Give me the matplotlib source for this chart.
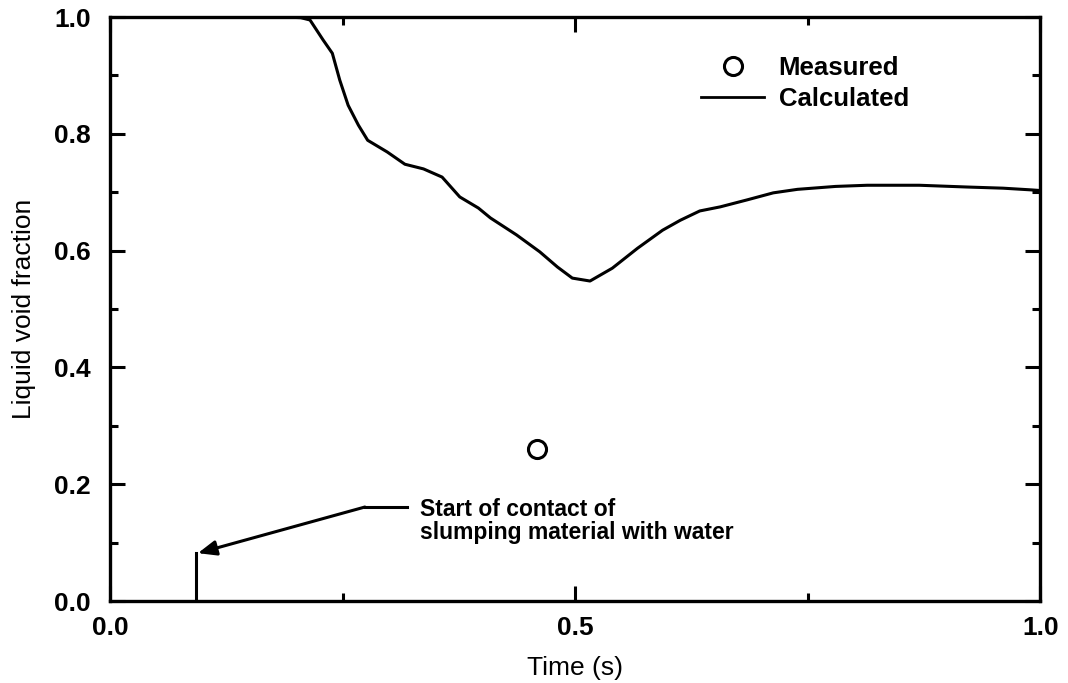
import numpy as np
import matplotlib.pyplot as plt
from matplotlib.lines import Line2D

plt.rcParams['font.family'] = ['Liberation Sans', 'DejaVu Sans']

# Calculated liquid void fraction
time_calc = [0.0, 0.10, 0.19, 0.205, 0.215, 0.229, 0.239, 0.247, 0.256, 0.267,
             0.277, 0.298, 0.317, 0.337, 0.357, 0.376, 0.396, 0.409, 0.437,
             0.462, 0.481, 0.497, 0.516, 0.540, 0.567, 0.594, 0.613, 0.634,
             0.656, 0.685, 0.713, 0.739, 0.78, 0.814, 0.87, 0.921, 0.96,
             0.991, 1.0]
void_calc = [1.0, 1.0, 1.0, 0.999, 0.995, 0.961, 0.938, 0.892, 0.849, 0.815,
             0.789, 0.769, 0.748, 0.740, 0.726, 0.692, 0.673, 0.656, 0.627,
             0.598, 0.572, 0.553, 0.548, 0.570, 0.604, 0.635, 0.652, 0.668,
             0.675, 0.687, 0.699, 0.705, 0.710, 0.712, 0.712, 0.709, 0.707,
             0.704, 0.703]

# Measured point
time_meas = [0.459]
void_meas = [0.260]

# Start of contact
t_contact = 0.0925
contact_text = "Start of contact of\nslumping material with water"

fig = plt.figure(figsize=(10.68, 6.83), dpi=100)
ax = fig.add_axes([0.103, 0.12, 0.871, 0.855])

ax.plot(time_calc, void_calc, color='black', lw=2.2)
ax.plot(time_meas, void_meas, 'o', ms=13, mfc='none', mec='black', mew=2.2)

# arrow marking start of contact
ax.plot([t_contact, t_contact], [0.0, 0.082], color='black', lw=2.2)
ax.annotate('', xy=(t_contact + 0.002, 0.082), xytext=(0.274, 0.161),
            arrowprops=dict(arrowstyle='-|>,head_length=1.1,head_width=0.45',
                            color='black', lw=2.2, shrinkA=0, shrinkB=0))
ax.plot([0.274, 0.319], [0.161, 0.161], color='black', lw=2.2)
ax.text(0.333, 0.137, contact_text, fontsize=16.5, fontweight='bold',
        va='center', ha='left', linespacing=1.0)

# legend
handles = [Line2D([], [], marker='o', ls='none', ms=13, mfc='none',
                  mec='black', mew=2.2),
           Line2D([], [], color='black', lw=2.0)]
ax.legend(handles, ['Measured', 'Calculated'], loc='center left',
          bbox_to_anchor=(0.611, 0.886), frameon=False,
          prop={'weight': 'bold', 'size': 18.5}, handlelength=2.45,
          handletextpad=0.55, labelspacing=0.28)

ax.set_xlim(0, 1)
ax.set_ylim(0, 1)
ax.set_xticks([0.0, 0.5, 1.0])
ax.set_xticks([0.25, 0.75], minor=True)
ax.set_yticks([0.0, 0.2, 0.4, 0.6, 0.8, 1.0])
ax.set_yticks([0.1, 0.3, 0.5, 0.7, 0.9], minor=True)
ax.xaxis.set_major_formatter(plt.FormatStrFormatter('%.1f'))
ax.yaxis.set_major_formatter(plt.FormatStrFormatter('%.1f'))

ax.tick_params(which='both', direction='in', top=True, right=True,
               width=2.2, labelsize=19)
ax.tick_params(which='major', length=11)
ax.tick_params(which='minor', length=6)
ax.tick_params(axis='x', pad=11)
ax.tick_params(axis='y', pad=14)
for lab in ax.get_xticklabels() + ax.get_yticklabels():
    lab.set_fontweight('bold')
for sp in ax.spines.values():
    sp.set_linewidth(2.4)

ax.set_xlabel('Time (s)', fontsize=19, labelpad=11)
ax.set_ylabel('Liquid void fraction', fontsize=19, labelpad=13)

fig.savefig('out.png', dpi=100)
